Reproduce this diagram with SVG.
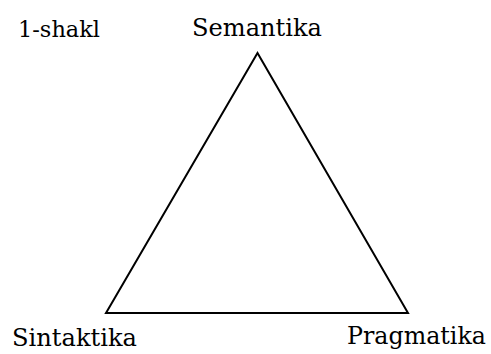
<svg xmlns="http://www.w3.org/2000/svg" width="491" height="354" viewBox="0 0 491 354">
<style>
.lbl { font-size: 25px; }
.fig { font-size: 23px; }
.edge { fill: none; stroke: #000; stroke-width: 2; stroke-linejoin: miter; }
</style>
<rect width="491" height="354" fill="#fff"/>
<g id="connectors">
<polygon class="edge" points="257.5,53 106,313 408,313"/>
</g>
<g font-family="'DejaVu Serif', serif" fill="#000">
<g id="caption"><text class="fig" x="18" y="37" textLength="82" lengthAdjust="spacingAndGlyphs">1-shakl</text></g>
<g id="semantika"><text class="lbl" x="192" y="36" textLength="130" lengthAdjust="spacingAndGlyphs">Semantika</text></g>
<g id="sintaktika"><text class="lbl" x="12" y="346" textLength="125" lengthAdjust="spacingAndGlyphs">Sintaktika</text></g>
<g id="pragmatika"><text class="lbl" x="347" y="344" textLength="139" lengthAdjust="spacingAndGlyphs">Pragmatika</text></g>
</g>
</svg>
